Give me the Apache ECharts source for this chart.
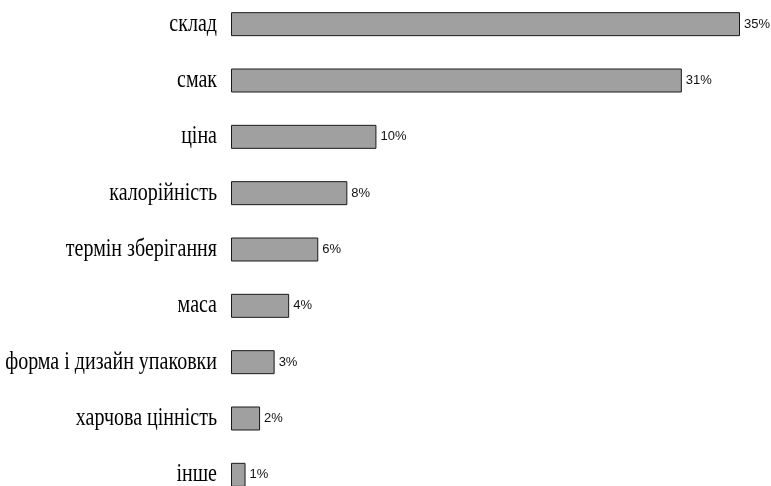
<!DOCTYPE html>
<html>
<head>
<meta charset="utf-8">
<script src="https://cdn.jsdelivr.net/npm/echarts@6/dist/echarts.min.js"></script>
<style>
  html, body { margin: 0; padding: 0; background: #fff; }
  #chart { width: 771px; height: 486px; }
</style>
</head>
<body>
<div id="chart"></div>
<script>
// Фактори вибору продукту, частка відповідей (%)
const categories = [
  'склад',
  'смак',
  'ціна',
  'калорійність',
  'термін зберігання',
  'маса',
  'форма і дизайн упаковки',
  'харчова цінність',
  'інше'
];
const shares = [35, 31, 10, 8, 6, 4, 3, 2, 1];

const chart = echarts.init(document.getElementById('chart'));
chart.setOption({
  animation: false,
  backgroundColor: '#ffffff',
  grid: {
    left: 231, right: 31, top: -4, bottom: -17,
    containLabel: false,
    outerBoundsMode: 'none'
  },
  xAxis: {
    type: 'value',
    min: 0,
    max: 35,
    show: false
  },
  yAxis: {
    type: 'category',
    data: categories,
    inverse: true,
    axisLine: { show: false },
    axisTick: { show: false },
    splitLine: { show: false },
    axisLabel: { show: false }
  },
  series: [{
    type: 'bar',
    data: shares,
    barWidth: 24,
    itemStyle: {
      color: '#a0a0a0',
      borderColor: '#1a1a1a',
      borderWidth: 1
    },
    label: {
      show: true,
      position: 'right',
      distance: 4,
      formatter: '{c}%',
      color: '#111',
      fontFamily: 'Liberation Sans',
      fontSize: 13
    }
  }]
});

// Category names: tall, narrow serif lettering placed at each band centre
const labelGap = 14;
const x0 = chart.convertToPixel({ xAxisIndex: 0 }, 0);
chart.setOption({
  graphic: categories.map(function (name) {
    const cy = chart.convertToPixel({ yAxisIndex: 0 }, name);
    return {
      type: 'text',
      x: x0 - labelGap,
      y: cy,
      scaleY: 1.25,
      silent: true,
      style: {
        text: name,
        x: 0,
        y: 0,
        align: 'right',
        verticalAlign: 'middle',
        fill: '#000',
        font: '20px "Liberation Serif"'
      }
    };
  })
});
</script>
</body>
</html>
